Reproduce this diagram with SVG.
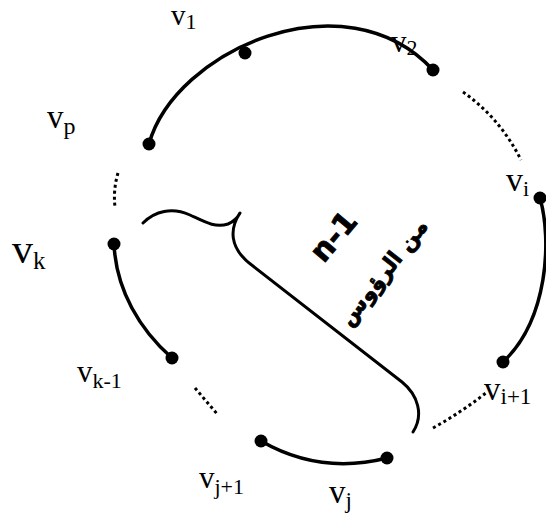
<svg xmlns="http://www.w3.org/2000/svg" width="546" height="518" viewBox="0 0 546 518">
<style>
.arc{fill:none;stroke:#000;stroke-width:3.5;stroke-linecap:round}
.dot{fill:none;stroke:#000;stroke-width:3;stroke-dasharray:3 3}
.brace{fill:none;stroke:#000;stroke-width:3;stroke-linecap:round;stroke-linejoin:round}
.lbl{font-family:"Liberation Serif","Times New Roman",serif;font-size:31px;fill:#000}
.sub{font-size:22px}
.v{fill:#000}
.ar{font-family:"DejaVu Sans",sans-serif;font-weight:bold;fill:#000;stroke:#000;stroke-width:0.8}
</style>
<rect width="546" height="518" fill="#fff"/>
<g id="connectors">
<path class="arc" d="M149,144 C175,50 345,-25 433,70"/>
<path class="arc" d="M540,198 C552,240 548,320 503,362"/>
<path class="arc" d="M114,244 C116,290 140,330 172,358"/>
<path class="arc" d="M261,441 Q320,475 387,458"/>
<path class="dot" d="M463,92 Q500,118 521,160"/>
<path class="dot" d="M118,173 Q113,190 115,207"/>
<path class="dot" d="M195,388 L218,415"/>
<path class="dot" d="M433,428 Q462,412 487,392"/>
</g>
<g id="brace">
<path class="brace" d="M143,223 C155,211 172,207 190,215 C205,222 215,228 228,224 C235,221 238,217 240,213 C230,228 228,248 253,266 L402,382 C418,395 424,415 413,432"/>
</g>
<g id="brace-label">
<text class="ar" transform="translate(333,236) rotate(-50)" x="0" y="11" style="font-size:30px" text-anchor="middle">n-1</text>
<text class="ar" transform="translate(383,272) rotate(-52)" x="0" y="8" style="font-size:22px" text-anchor="middle" direction="rtl">من الرؤوس</text>
</g>
<g id="v1"><circle class="v" cx="245" cy="53" r="6.5"/><text class="lbl" x="171" y="25" style="font-size:29px">v<tspan class="sub" dy="4">1</tspan></text></g>
<g id="v2"><circle class="v" cx="433" cy="70" r="6.5"/><text class="lbl" x="391" y="52">v<tspan class="sub" dy="3">2</tspan></text></g>
<g id="vp"><circle class="v" cx="149" cy="144" r="6.5"/><text class="lbl" x="47" y="128" style="font-size:33px">v<tspan class="sub" style="font-size:24px" dy="6">p</tspan></text></g>
<g id="vi"><circle class="v" cx="540" cy="198" r="6.5"/><text class="lbl" x="506" y="191" style="font-size:34px">v<tspan class="sub" dy="5">i</tspan></text></g>
<g id="vk"><circle class="v" cx="114" cy="244" r="6.5"/><text class="lbl" x="12" y="263" style="font-size:42px">v<tspan class="sub" style="font-size:25px" dy="6">k</tspan></text></g>
<g id="vk-1"><circle class="v" cx="172" cy="358" r="6.5"/><text class="lbl" x="77" y="382">v<tspan class="sub" dy="6">k-1</tspan></text></g>
<g id="vi+1"><circle class="v" cx="503" cy="362" r="6.5"/><text class="lbl" x="484" y="400" style="font-size:33px">v<tspan class="sub" style="font-size:23px" dy="4">i+1</tspan></text></g>
<g id="vj+1"><circle class="v" cx="261" cy="441" r="6.5"/><text class="lbl" x="199" y="488">v<tspan class="sub" dy="6">j+1</tspan></text></g>
<g id="vj"><circle class="v" cx="387" cy="458" r="6.5"/><text class="lbl" x="329" y="503" style="font-size:33px">v<tspan class="sub" style="font-size:23px" dy="5">j</tspan></text></g>
</svg>
